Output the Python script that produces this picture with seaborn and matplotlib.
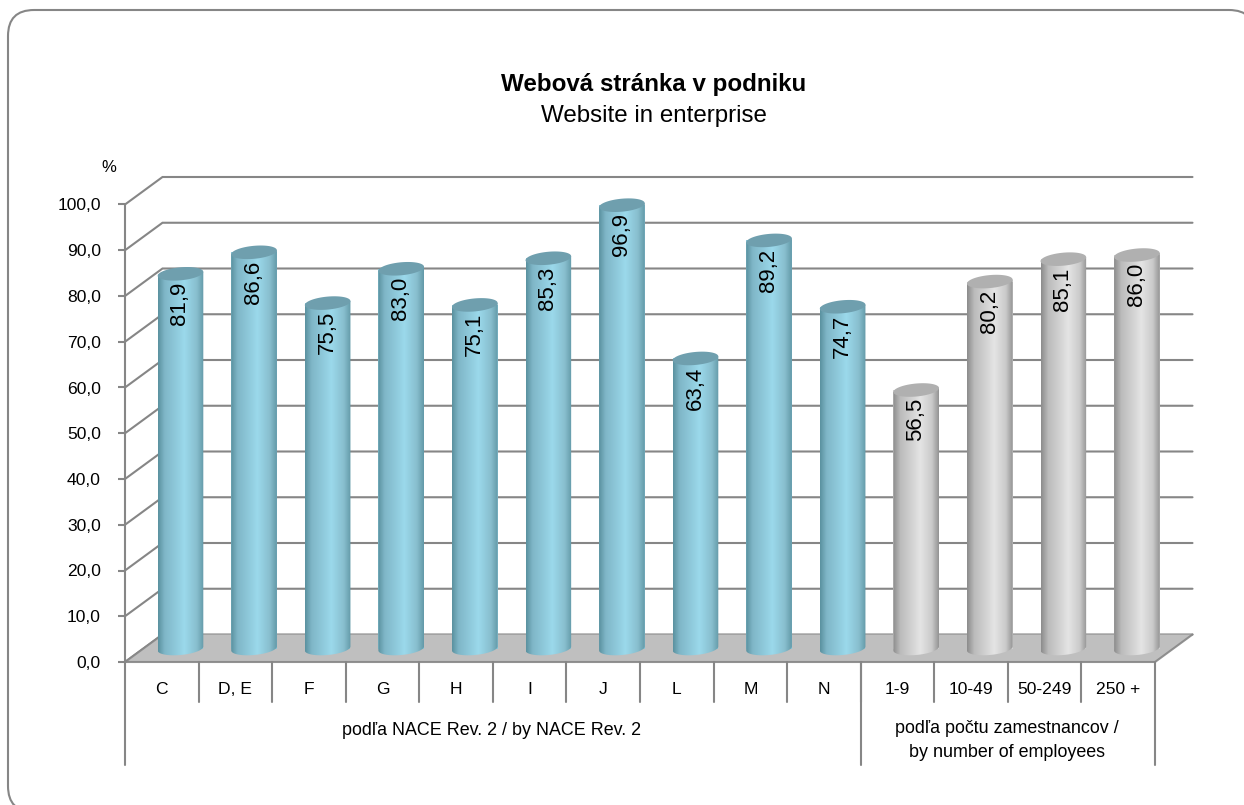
import numpy as np
import pandas as pd
import seaborn as sns
import matplotlib
matplotlib.use("Agg")
import matplotlib.pyplot as plt
from matplotlib.colors import LinearSegmentedColormap
from matplotlib.patches import FancyBboxPatch
from matplotlib.path import Path
from matplotlib.transforms import IdentityTransform

# ---- data ----
categories = ["C", "D, E", "F", "G", "H", "I", "J", "L", "M", "N", "1-9", "10-49", "50-249", "250 +"]
values = [81.9, 86.6, 75.5, 83.0, 75.1, 85.3, 96.9, 63.4, 89.2, 74.7, 56.5, 80.2, 85.1, 86.0]
groups = ["nace"] * 10 + ["size"] * 4
y_ticks = [0, 10, 20, 30, 40, 50, 60, 70, 80, 90, 100]
title_main = "Webová stránka v podniku"
title_sub = "Website in enterprise"
group_nace = "podľa NACE Rev. 2 / by NACE Rev. 2"
group_size = "podľa počtu zamestnancov /\nby number of employees"

sns.set_theme(style="white")
plt.rcParams["font.family"] = ["Liberation Sans", "DejaVu Sans"]

W, H = 1244, 805
fig = plt.figure(figsize=(W / 100, H / 100), dpi=100, facecolor="white")

# outer rounded frame, running off the right and bottom of the picture
fig.add_artist(FancyBboxPatch((8, -7), 1247, 802, boxstyle="round,pad=0,rounding_size=26",
                              transform=IdentityTransform(), fc="white", ec="#868686", lw=1.5,
                              zorder=-1))

L, R, Y0, Y100 = 125, 1155, 662, 204.5
ax = fig.add_axes([L / W, (H - Y0) / H, (R - L) / W, (Y0 - Y100) / H])
ax.patch.set_visible(False)

df = pd.DataFrame({"cat": categories, "val": values, "grp": groups})
sns.barplot(data=df, x="cat", y="val", hue="grp", order=categories, dodge=False, width=0.62,
            palette={"nace": "#8cc6d8", "size": "#cfcfcf"}, legend=False, saturation=1, ax=ax, zorder=3)
ax.set_autoscale_on(False)
ax.set_xlim(-0.5, 13.5)
ax.set_ylim(0, 100)
ax.set_xlabel("")
ax.set_ylabel("")
for s in ax.spines.values():
    s.set_visible(False)

ux = (R - L) / 14          # pixels per category
uy = (Y0 - Y100) / 100     # pixels per percent
GRID = "#868686"
lw = 1.5

# back wall and left wall lines
back_dx, back_dy = 37.5 / ux, 27.5 / uy
for v in y_ticks:
    ax.plot([-0.5, -0.5 + back_dx, 13.5 + back_dx], [v, v + back_dy, v + back_dy],
            color=GRID, lw=lw, clip_on=False, zorder=1, solid_joinstyle="miter")
# floor
ax.fill([-0.5, 13.5, 13.5 + back_dx, -0.5 + back_dx], [0, 0, back_dy, back_dy],
        color="#bfbfbf", clip_on=False, zorder=1.5, lw=0)
ax.plot([-0.5, 13.5, 13.5 + back_dx], [0, 0, back_dy],
        color=GRID, lw=lw, clip_on=False, zorder=2, alpha=0.9)
ax.plot([-0.5 + back_dx, -0.5], [back_dy, 0], color=GRID, lw=lw, clip_on=False, zorder=2, alpha=0.9)

# axis lines and multi-level category separators
sep_short = -40 / uy
sep_long = -103 / uy
ax.plot([-0.5, -0.5], [100, sep_long], color=GRID, lw=lw, clip_on=False, zorder=2)
ax.plot([13.5, 13.5], [0, sep_long], color=GRID, lw=lw, clip_on=False, zorder=2)
ax.plot([9.5, 9.5], [0, sep_long], color=GRID, lw=lw, clip_on=False, zorder=2)
for b in np.arange(0.5, 13, 1):
    ax.plot([b, b], [0, sep_short], color=GRID, lw=lw, clip_on=False, zorder=2)

ax.set_yticks(y_ticks)
ax.set_yticklabels([f"{v:.1f}".replace(".", ",") for v in y_ticks], fontsize=12.6, color="black")
ax.tick_params(axis="y", length=5, width=1.5, color=GRID, pad=12.5, left=True)
ax.set_xticks(range(len(categories)))
ax.set_xticklabels(categories, fontsize=12.6, color="black")
ax.tick_params(axis="x", length=0, pad=14.5)

# cylinders
teal = LinearSegmentedColormap.from_list("teal", [(0, "#5a919f"), (0.14, "#7fb6c7"), (0.58, "#9bd9eb"),
                                                  (0.85, "#88bece"), (1, "#639aa8")])
grey = LinearSegmentedColormap.from_list("grey", [(0, "#8c8c8c"), (0.16, "#bcbcbc"), (0.6, "#e4e4e4"),
                                                  (0.85, "#cacaca"), (1, "#949494")])
top_colors = {"nace": "#6f9fae", "size": "#b0b0b0"}
gradient = np.linspace(0, 1, 128).reshape(1, -1)
bar_dx, bar_dy = 18.7 / ux, 13.5 / uy
t = np.linspace(0, 2 * np.pi, 121)
half = t[60:]  # lower half of the ellipse, left to right
bh, tilt = 6.5, 2.0

bars = [p for c in ax.containers for p in c if p.get_height() > 0]
for p in bars:
    i = int(round(p.get_x() + p.get_width() / 2))
    v = values[i]
    hw = p.get_width() / 2
    cx, cy0 = i + bar_dx, bar_dy
    cyt = v + bar_dy
    p.set_x(cx - hw)
    p.set_y(cy0)
    p.set_clip_on(False)
    p.set_edgecolor("none")
    p.set_linewidth(0)
    ex = hw * np.cos(t)
    ey = (bh * np.sin(t) + tilt * np.cos(t)) / uy
    # body clip: lower half of base ellipse + up to the top ellipse
    hx = hw * np.cos(half)
    hy = (bh * np.sin(half) + tilt * np.cos(half)) / uy
    vx = np.r_[cx + hx, cx + hw, cx - hw, cx - hw]
    vy = np.r_[cy0 + hy, cyt + tilt / uy, cyt - tilt / uy, cy0 - tilt / uy]
    clip = Path(np.c_[vx, vy])
    im = ax.imshow(gradient, cmap=teal if groups[i] == "nace" else grey, aspect="auto",
                   extent=(cx - hw, cx + hw, -5, cyt + 5), zorder=3.2, interpolation="bilinear")
    im.set_clip_box(fig.bbox)
    im.set_clip_path(clip, transform=ax.transData)
    ax.fill(cx + ex, cyt + ey, color=top_colors[groups[i]], lw=0, clip_on=False, zorder=3.4)
    ax.text(cx - 0.5 / ux, cyt - 8 / uy, f"{v:.1f}".replace(".", ","), rotation=90, ha="center", va="top",
            fontsize=16, color="black", zorder=4, clip_on=False)
ax.set_xlim(-0.5, 13.5)
ax.set_ylim(0, 100)

# titles and free labels
fig.text(654 / W, 1 - 85 / H, title_main, ha="center", va="center", fontsize=17.4, fontweight="bold", color="black")
fig.text(654 / W, 1 - 116 / H, title_sub, ha="center", va="center", fontsize=17.4, color="black")
fig.text(108.5 / W, 1 - 168 / H, "%", ha="center", va="center", fontsize=12, color="black")
fig.text(492 / W, 1 - 730 / H, group_nace, ha="center", va="center", fontsize=12.9, color="black")
fig.text(1007 / W, 1 - 740.5 / H, group_size, ha="center", va="center", fontsize=12.9, color="black", linespacing=1.55)

fig.savefig("out.png", dpi=100, facecolor="white")
